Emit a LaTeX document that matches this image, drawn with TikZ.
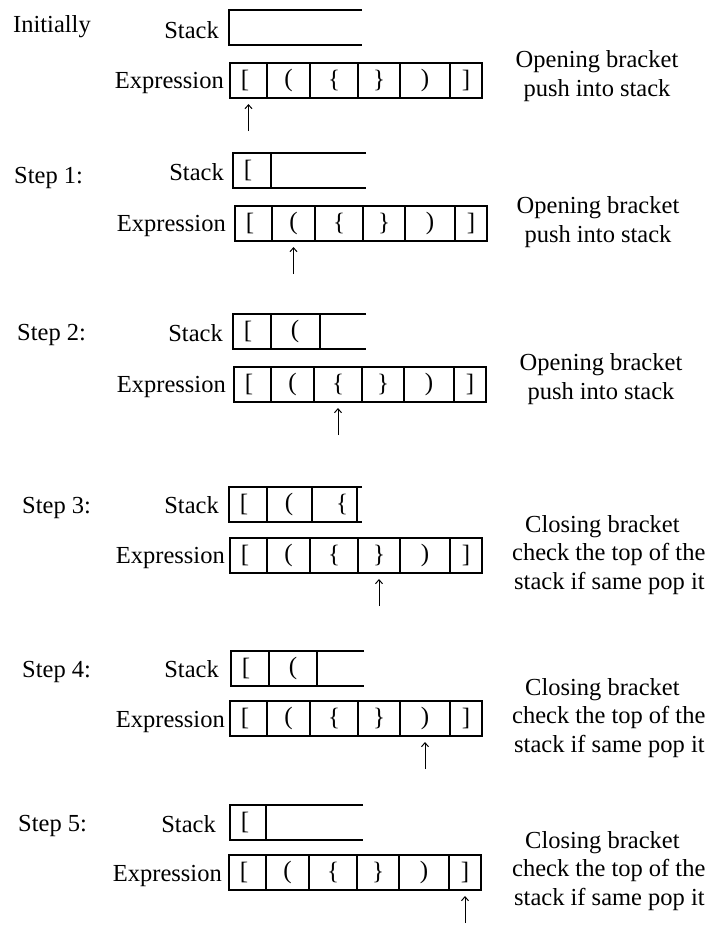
\documentclass[tikz,border=0pt]{standalone}
\usepackage{fontspec}
\setmainfont{Liberation Serif}
\usetikzlibrary{arrows.meta}
\tikzset{
  txt/.style={font=\fontsize{24.5}{28.5}\selectfont, inner sep=0pt},
  sym/.style={font=\fontsize{25}{29}\selectfont, inner sep=0pt, anchor=center},
  boxline/.style={line width=1.2pt, black},
  ptr/.style={line width=1pt, -{Straight Barb[length=4pt,width=7pt]}},
  note/.style={txt, align=center, anchor=center},
  cnote/.style={txt, align=left, anchor=west}
}
% expression row: #1 name, #2 x, #3 top y
\newcommand\ExprRow[3]{%
  \begin{scope}[shift={(#2,#3)}]
    \draw[boxline] (0,0) rectangle (252,35);
    \foreach \d in {37,80,128,170,220} \draw[boxline] (\d,0) -- (\d,35);
    \node[sym] (#1s1) at (15,17.5) {[};
    \node[sym] (#1s2) at (58.5,17.5) {(};
    \node[sym] (#1s3) at (104,17.5) {\{};
    \node[sym] (#1s4) at (149,17.5) {\}};
    \node[sym] (#1s5) at (195,17.5) {)};
    \node[sym] (#1s6) at (236,17.5) {]};
    \coordinate (#1m1) at (18.5,35);
    \coordinate (#1m2) at (58.5,35);
    \coordinate (#1m3) at (104,35);
    \coordinate (#1m4) at (149,35);
    \coordinate (#1m5) at (195,35);
    \coordinate (#1m6) at (236,35);
  \end{scope}}
% stack frame: #1 x, #2 top y
\newcommand\StackFrame[2]{%
  \draw[boxline] (#1+133,#2) -- (#1,#2) -- (#1,#2+35) -- (#1+133,#2+35);}
\newcommand\ClosingText{\hspace*{13pt}Closing bracket\\check the top of the\\\hspace*{2pt}stack if same pop it}

\begin{document}
\begin{tikzpicture}[x=1pt,y=-1pt]
\useasboundingbox (0,0) rectangle (709,930);

% ---------------- Initially
\node[txt, anchor=base west] (l0) at (13,32) {Initially};
\node[txt, anchor=base east] (st0) at (219,38) {Stack};
\StackFrame{229}{10}
\node[txt, anchor=base east] (ex0) at (224,88.5) {Expression};
\ExprRow{e0}{230}{63}
\draw[ptr] ([yshift=-33pt]e0m1) -- ([yshift=-6pt]e0m1);
\node[note] (n0) at (597,76) {Opening bracket\\push into stack};

% ---------------- Step 1
\node[txt, anchor=base west] (l1) at (14,183) {Step 1:};
\node[txt, anchor=base east] (st1) at (224,180) {Stack};
\StackFrame{233}{153}
\draw[boxline] (271,153) -- (271,188);
\node[sym] (k1a) at (248,170.5) {[};
\node[txt, anchor=base east] (ex1) at (226,231.5) {Expression};
\ExprRow{e1}{235}{206}
\draw[ptr] ([yshift=-33pt]e1m2) -- ([yshift=-6pt]e1m2);
\node[note] (n1) at (598,222) {Opening bracket\\push into stack};

% ---------------- Step 2
\node[txt, anchor=base west] (l2) at (17,340) {Step 2:};
\node[txt, anchor=base east] (st2) at (223,341) {Stack};
\StackFrame{233}{314}
\draw[boxline] (271,314) -- (271,349);
\draw[boxline] (320,314) -- (320,349);
\node[sym] (k2a) at (248,331.5) {[};
\node[sym] (k2b) at (295,331.5) {(};
\node[txt, anchor=base east] (ex2) at (226,392.5) {Expression};
\ExprRow{e2}{234}{367}
\draw[ptr] ([yshift=-33pt]e2m3) -- ([yshift=-6pt]e2m3);
\node[note] (n2) at (601,379) {Opening bracket\\push into stack};

% ---------------- Step 3
\node[txt, anchor=base west] (l3) at (22,513) {Step 3:};
\node[txt, anchor=base east] (st3) at (219,513) {Stack};
\StackFrame{229}{487}
\draw[boxline] (267,487) -- (267,522);
\draw[boxline] (312,487) -- (312,522);
\draw[boxline] (357,487) -- (357,522);
\node[sym] (k3a) at (244,504.5) {[};
\node[sym] (k3b) at (289,504.5) {(};
\node[sym] (k3c) at (342,504.5) {\{};
\node[txt, anchor=base east] (ex3) at (225,563.5) {Expression};
\ExprRow{e3}{230}{538}
\draw[ptr] ([yshift=-33pt]e3m4) -- ([yshift=-6pt]e3m4);
\node[cnote] (n3) at (512,555) {\ClosingText};

% ---------------- Step 4
\node[txt, anchor=base west] (l4) at (22,677) {Step 4:};
\node[txt, anchor=base east] (st4) at (219,677) {Stack};
\StackFrame{231}{651}
\draw[boxline] (269,651) -- (269,686);
\draw[boxline] (317,651) -- (317,686);
\node[sym] (k4a) at (246,668.5) {[};
\node[sym] (k4b) at (293,668.5) {(};
\node[txt, anchor=base east] (ex4) at (225,727) {Expression};
\ExprRow{e4}{230}{701}
\draw[ptr] ([yshift=-33pt]e4m5) -- ([yshift=-6pt]e4m5);
\node[cnote] (n4) at (512,718) {\ClosingText};

% ---------------- Step 5
\node[txt, anchor=base west] (l5) at (18,831) {Step 5:};
\node[txt, anchor=base east] (st5) at (216,832) {Stack};
\StackFrame{230}{805}
\draw[boxline] (266,805) -- (266,840);
\node[sym] (k5a) at (245,822.5) {[};
\node[txt, anchor=base east] (ex5) at (222,881) {Expression};
\ExprRow{e5}{229}{855}
\draw[ptr] ([yshift=-33pt]e5m6) -- ([yshift=-6pt]e5m6);
\node[cnote] (n5) at (512,871) {\ClosingText};

\end{tikzpicture}
\end{document}
